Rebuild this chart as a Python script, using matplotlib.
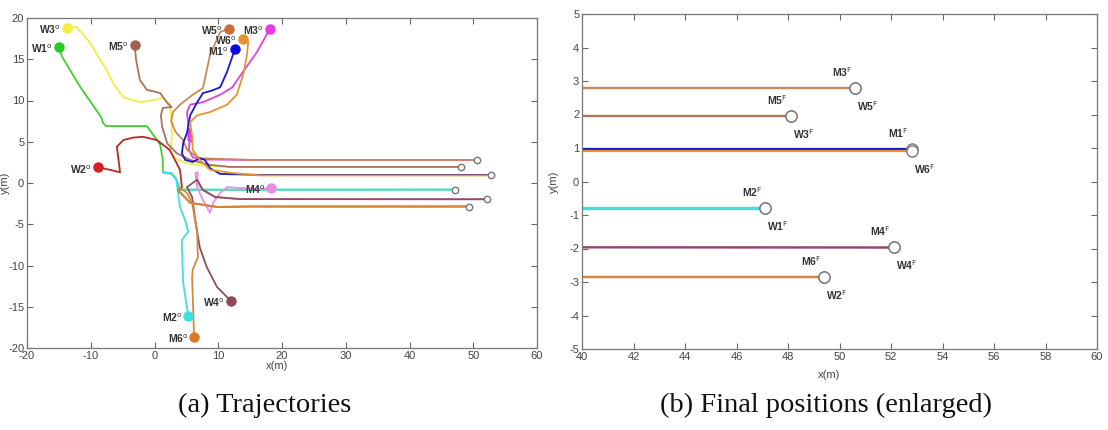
import matplotlib

matplotlib.use("Agg")
import matplotlib.pyplot as plt

# trajectories (x, y in metres)
W3_X = [-13.7, -12.2, -10.1, -8.5, -7.5, -6.5, -4.9, -2.3, 0.4, 1.3, 2.4, 2.7, 2.7, 2.4, 3.2, 5.0, 8.0, 12.0, 48.1]
W3_Y = [18.8, 18.9, 17.0, 14.9, 13.7, 12.1, 10.4, 9.8, 10.1, 10.4, 9.5, 7.6, 5.2, 4.0, 3.0, 2.4, 2.1, 1.95, 1.95]
M5_X = [-3.1, -2.9, -2.3, -1.2, 0.9, 2.0, 2.7, 1.3, 1.0, 1.2, 2.0, 3.5, 5.6, 8.7, 11.8, 48.1]
M5_Y = [16.7, 15.0, 12.5, 11.3, 10.9, 9.7, 9.2, 9.1, 8.2, 6.8, 4.8, 3.6, 2.8, 2.2, 1.95, 1.95]
W1_X = [-15.0, -14.5, -11.7, -8.3, -8.1, -7.6, -1.2, 0.4, 0.9, 1.3, 1.3, 2.7, 3.4, 4.0, 10.0, 47.1]
W1_Y = [16.5, 15.3, 11.7, 7.9, 7.3, 6.9, 6.9, 5.2, 4.6, 2.8, 1.3, 1.1, 0.5, -0.8, -0.82, -0.8]
M2_X = [5.3, 4.5, 4.3, 4.3, 5.3, 4.8, 4.0, 3.7, 3.4, 2.6, 1.3, 2.6, 3.4, 4.0, 10.0, 47.1]
M2_Y = [-16.1, -12.1, -7.8, -6.9, -5.9, -4.5, -2.9, -1.2, 0.5, 1.2, 1.3, 1.2, 0.5, -0.82, -0.8, -0.8]
W2_X = [-8.9, -7.0, -5.4, -5.9, -4.9, -3.4, -1.8, 0.4, 2.4, 4.0, 4.3, 3.7, 5.6, 9.8, 15.0, 49.4]
W2_Y = [1.9, 1.6, 1.3, 4.4, 5.2, 5.5, 5.6, 5.2, 4.0, 1.6, -0.5, -0.9, -2.4, -2.9, -2.85, -2.85]
M6_X = [6.2, 6.1, 5.9, 6.0, 6.8, 6.7, 5.9, 5.1, 4.0, 3.7, 5.6, 9.8, 15.0, 49.4]
M6_Y = [-18.7, -16.0, -11.4, -10.5, -9.0, -6.1, -2.4, -1.2, -0.6, -0.85, -2.4, -2.9, -2.85, -2.85]
W4_X = [12.0, 9.8, 8.2, 7.1, 6.4, 5.9, 5.1, 5.8, 6.7, 7.6, 9.5, 13.4, 52.1]
W4_Y = [-14.3, -12.6, -10.2, -7.8, -4.5, -1.7, -0.5, -0.1, 0.4, -0.85, -1.7, -1.95, -1.97]
M4_X = [18.3, 16.5, 13.4, 11.4, 10.3, 9.2, 8.7, 7.6, 6.7, 6.4, 6.8, 6.7, 7.6, 9.5, 13.4, 52.1]
M4_Y = [-0.6, -0.7, -0.6, -0.5, -1.2, -2.4, -3.6, -2.1, -0.5, 1.2, 1.3, 0.1, -0.85, -1.7, -1.95, -1.97]
M1_X = [12.6, 11.4, 10.3, 9.0, 7.6, 6.7, 5.6, 5.1, 4.5, 4.3, 4.8, 6.0, 7.1, 7.9, 8.7, 10.3, 16.5, 52.8]
M1_Y = [16.2, 13.5, 11.6, 11.2, 10.9, 9.8, 8.2, 6.1, 4.85, 3.6, 2.8, 2.55, 3.0, 2.8, 1.8, 1.1, 0.98, 0.98]
W6_X = [13.9, 14.7, 14.5, 13.9, 12.9, 11.4, 8.7, 6.7, 5.6, 5.9, 6.0, 7.1, 8.7, 12.3, 16.5, 52.8]
W6_Y = [17.5, 17.1, 15.5, 13.1, 10.7, 9.5, 8.6, 8.2, 7.4, 5.6, 4.0, 2.8, 1.6, 1.2, 0.92, 0.92]
M3_X = [18.1, 16.1, 13.9, 12.2, 10.3, 7.6, 5.6, 5.1, 5.3, 5.3, 5.9, 5.6, 5.4, 6.0, 8.0, 15.0, 50.6]
M3_Y = [18.7, 15.9, 13.5, 11.6, 10.7, 9.8, 9.5, 8.6, 7.0, 5.2, 5.0, 6.6, 4.0, 3.1, 2.85, 2.8, 2.8]
W5_X = [11.7, 10.3, 8.7, 7.6, 6.0, 4.0, 2.9, 2.6, 3.3, 4.5, 5.1, 7.1, 15.0, 50.6]
W5_Y = [18.7, 18.3, 15.5, 11.5, 10.7, 9.5, 8.6, 7.5, 6.2, 5.2, 4.0, 3.0, 2.8, 2.8]

# drawing order (later ones on top), labels and colours
NAMES = ["W3", "M5", "M3", "W5", "M1", "W6", "W1", "M2", "M4", "W4", "W2", "M6"]
TRACKS = [(W3_X, W3_Y), (M5_X, M5_Y), (M3_X, M3_Y), (W5_X, W5_Y), (M1_X, M1_Y), (W6_X, W6_Y),
          (W1_X, W1_Y), (M2_X, M2_Y), (M4_X, M4_Y), (W4_X, W4_Y), (W2_X, W2_Y), (M6_X, M6_Y)]
LINE_COLORS = ["#f2ee40", "#a87460", "#e040e0", "#c98a55", "#1a1acc", "#e8952e",
               "#44cc33", "#40e0e0", "#e590e5", "#8a5060", "#b82828", "#d88a3a"]
DOT_COLORS = ["#f5f03c", "#a0604a", "#e23ce2", "#cc6e3a", "#0a0adc", "#e8902a",
              "#22cc22", "#3ce0e0", "#e88ae8", "#8c4a5a", "#d42020", "#d87a28"]

TEXT = "#333333"
GRAY = "#444444"


def style_axes(ax):
    for s in ax.spines.values():
        s.set_color("#777777")
        s.set_linewidth(0.9)
    ax.tick_params(direction="in", top=True, right=True, length=4, width=0.8,
                   color="#666666", labelsize=8, labelcolor=GRAY, pad=2)


plt.rcParams["font.family"] = ["Liberation Sans", "DejaVu Sans"]
plt.rcParams["axes.unicode_minus"] = False

fig = plt.figure(figsize=(11.08, 4.30), dpi=100)
ax1 = fig.add_axes([27 / 1108, 82 / 430, 510 / 1108, 330 / 430])
ax2 = fig.add_axes([582 / 1108, 81 / 430, 515 / 1108, 335 / 430])

# (a) trajectories
for (xs, ys), lc in zip(TRACKS, LINE_COLORS):
    ax1.plot(xs, ys, color=lc, lw=1.3, solid_joinstyle="round", zorder=2)
for (xs, ys) in TRACKS:
    ax1.plot(xs[-1], ys[-1], "o", ms=4.5, mfc="white", mec="#777777", mew=0.9, zorder=3)
for name, (xs, ys), dc in zip(NAMES, TRACKS, DOT_COLORS):
    ax1.plot(xs[0], ys[0], "o", ms=6.5, color=dc, zorder=4)
    ax1.annotate(name + r"$^{\rm o}$", (xs[0], ys[0]), xytext=(-6, -2), textcoords="offset pixels",
                 ha="right", va="center", fontsize=7.5, fontweight="bold", color=TEXT, zorder=5)

ax1.set_xlim(-20, 60)
ax1.set_ylim(-20, 20)
ax1.set_xticks(range(-20, 61, 10))
ax1.set_yticks(range(-20, 21, 5))
ax1.set_xlabel("x(m)", fontsize=8, color=GRAY)
ax1.set_ylabel("y(m)", fontsize=8, color=GRAY)
ax1.xaxis.set_label_coords(0.49, -0.04)
ax1.yaxis.set_label_coords(-0.034, 0.5)
style_axes(ax1)

# (b) final positions, enlarged
for (xs, ys), lc in zip(TRACKS, LINE_COLORS):
    lw = 2.4 if lc == "#40e0e0" else 1.6
    ax2.plot(xs, ys, color=lc, lw=lw, zorder=2)
for name, (xs, ys) in zip(NAMES, TRACKS):
    ax2.plot(xs[-1], ys[-1], "o", ms=8, mfc="white", mec="#777777", mew=1.0, zorder=3)
    off = (-13, 16) if name.startswith("M") else (13, -18)
    ax2.annotate(name + r"$^{\rm F}$", (xs[-1], ys[-1]), xytext=off, textcoords="offset pixels",
                 ha="center", va="center", fontsize=7.5, fontweight="bold", color=TEXT, zorder=5)

ax2.set_xlim(40, 60)
ax2.set_ylim(-5, 5)
ax2.set_xticks(range(40, 61, 2))
ax2.set_yticks(range(-5, 6, 1))
ax2.set_xlabel("x(m)", fontsize=8, color=GRAY)
ax2.set_ylabel("y(m)", fontsize=8, color=GRAY)
ax2.xaxis.set_label_coords(0.48, -0.062)
ax2.yaxis.set_label_coords(-0.045, 0.5)
style_axes(ax2)

fig.text(265 / 1108, 25 / 430, "(a) Trajectories", ha="center", va="center",
         fontsize=20.5, family="Liberation Serif", color="#111111")
fig.text(826 / 1108, 25 / 430, "(b) Final positions (enlarged)", ha="center", va="center",
         fontsize=20.5, family="Liberation Serif", color="#111111")

fig.savefig("out.png", dpi=100, facecolor="white")
